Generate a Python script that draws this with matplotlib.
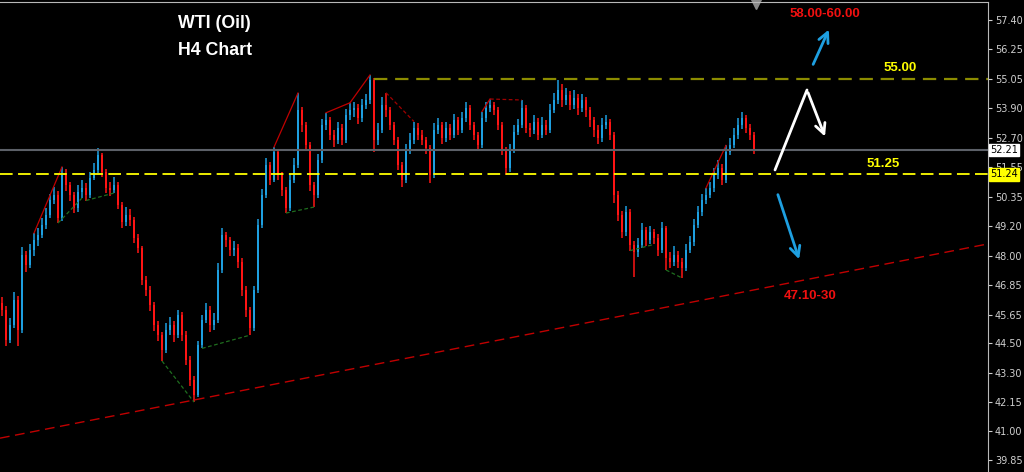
import matplotlib
matplotlib.use("Agg")
import matplotlib.pyplot as plt
import matplotlib.transforms as mtransforms

# H4 candles (prices)
closes = [45.83, 44.63, 45.23, 46.23, 45.03, 48.03, 47.63, 48.22, 48.62, 48.82,
          49.22, 49.62, 50.22, 50.42, 49.50, 51.22, 50.82, 50.42, 49.90, 50.54,
          50.70, 50.42, 51.10, 51.42, 52.02, 51.34, 50.70, 50.62, 50.82, 50.02,
          49.34, 49.62, 49.42, 48.70, 48.30, 47.03, 46.63, 46.03, 45.23, 44.83,
          44.24, 45.03, 45.23, 44.83, 45.63, 44.83, 43.84, 43.04, 42.44, 44.43,
          45.43, 45.83, 45.23, 45.43, 47.43, 48.82, 48.62, 48.22, 48.30, 47.75,
          46.63, 45.83, 45.11, 46.63, 49.22, 50.42, 51.62, 51.02, 52.14, 51.22,
          50.62, 49.90, 51.02, 51.62, 53.81, 53.21, 52.41, 50.82, 50.42, 51.82,
          53.21, 53.41, 52.81, 52.61, 53.09, 52.61, 53.61, 53.81, 53.89, 53.49,
          54.01, 54.21, 55.01, 52.61, 53.01, 54.01, 53.81, 53.21, 52.61, 51.62,
          51.02, 52.22, 52.61, 53.09, 52.81, 52.61, 52.29, 51.22, 53.01, 53.21,
          52.69, 53.09, 52.81, 53.41, 53.01, 53.49, 53.89, 53.21, 52.81, 52.41,
          53.49, 53.89, 54.01, 53.81, 53.21, 52.22, 51.50, 52.22, 52.93, 53.21,
          53.89, 53.09, 53.01, 53.33, 52.81, 53.21, 53.01, 53.81, 54.21, 54.61,
          54.21, 54.41, 54.01, 54.29, 53.89, 54.21, 53.81, 53.41, 53.01, 52.69,
          53.21, 53.33, 52.81, 50.42, 49.62, 48.94, 49.74, 48.42, 48.14, 48.42,
          49.02, 48.62, 48.94, 48.70, 48.22, 49.10, 47.91, 47.75, 48.03, 47.75,
          47.51, 48.22, 48.54, 49.22, 49.74, 50.22, 50.42, 50.70, 51.22, 51.50,
          51.02, 52.14, 52.41, 52.81, 53.21, 53.49, 53.09, 52.81, 52.21]
highs = [46.35, 46.00, 45.50, 46.55, 46.40, 48.34, 48.20, 48.45, 48.90, 49.10,
         49.50, 49.90, 50.45, 50.75, 50.60, 51.54, 51.45, 50.95, 50.55, 50.80,
         51.00, 50.90, 51.35, 51.70, 52.30, 52.10, 51.45, 50.95, 51.15, 50.95,
         50.15, 49.95, 49.85, 49.55, 48.85, 48.40, 47.20, 46.80, 46.15, 45.40,
         44.95, 45.30, 45.55, 45.40, 45.85, 45.75, 45.00, 44.00, 43.20, 44.60,
         45.65, 46.10, 46.00, 45.70, 47.70, 49.10, 48.95, 48.75, 48.60, 48.45,
         47.90, 46.80, 45.95, 46.80, 49.45, 50.65, 51.90, 51.75, 52.33, 52.25,
         51.35, 50.75, 51.25, 51.90, 54.49, 53.95, 53.35, 52.55, 50.95, 52.05,
         53.45, 53.70, 53.55, 53.00, 53.35, 53.25, 53.85, 54.10, 54.15, 54.05,
         54.25, 54.45, 55.21, 55.10, 53.30, 54.35, 54.50, 53.95, 53.35, 52.75,
         51.75, 52.45, 52.90, 53.35, 53.30, 53.00, 52.75, 52.40, 53.30, 53.50,
         53.35, 53.35, 53.25, 53.65, 53.55, 53.75, 54.15, 54.00, 53.35, 52.95,
         53.75, 54.15, 54.25, 54.15, 53.95, 53.35, 52.35, 52.45, 53.20, 53.45,
         54.21, 54.00, 53.30, 53.60, 53.50, 53.55, 53.40, 54.05, 54.50, 55.01,
         54.85, 54.70, 54.55, 54.60, 54.45, 54.45, 54.35, 53.95, 53.55, 53.20,
         53.50, 53.60, 53.45, 52.95, 50.60, 49.80, 50.00, 49.85, 48.60, 48.70,
         49.30, 49.15, 49.20, 49.05, 48.85, 49.35, 49.20, 48.15, 48.40, 48.20,
         47.90, 48.45, 48.80, 49.45, 50.00, 50.45, 50.70, 50.95, 51.50, 51.80,
         51.65, 52.40, 52.70, 53.10, 53.50, 53.73, 53.60, 53.25, 52.95]
lows = [45.60, 44.40, 44.50, 45.10, 44.40, 44.90, 47.35, 47.50, 48.00, 48.40,
        48.70, 49.05, 49.50, 50.05, 49.30, 49.40, 50.60, 50.20, 49.70, 49.75,
        50.30, 50.20, 50.30, 51.00, 51.30, 51.15, 50.50, 50.40, 50.50, 49.85,
        49.10, 49.20, 49.20, 48.50, 48.10, 46.85, 46.40, 45.80, 45.00, 44.60,
        43.80, 44.10, 44.85, 44.55, 44.70, 44.60, 43.64, 42.80, 42.16, 42.35,
        44.30, 45.30, 44.95, 45.05, 45.30, 47.30, 48.35, 48.00, 48.00, 47.50,
        46.40, 45.55, 44.83, 45.00, 46.50, 49.10, 50.30, 50.80, 50.95, 51.00,
        50.40, 49.70, 49.80, 50.90, 51.50, 52.95, 52.20, 50.60, 49.94, 50.30,
        51.70, 53.00, 52.60, 52.35, 52.45, 52.40, 52.50, 53.40, 53.55, 53.25,
        53.35, 53.85, 54.05, 52.14, 52.40, 52.90, 53.55, 53.00, 52.40, 51.40,
        50.74, 50.90, 52.05, 52.45, 52.60, 52.40, 52.05, 50.90, 51.10, 52.85,
        52.45, 52.55, 52.60, 52.70, 52.80, 52.90, 53.35, 53.00, 52.60, 52.22,
        52.30, 53.35, 53.75, 53.60, 53.00, 52.00, 51.22, 51.35, 52.10, 52.80,
        53.10, 52.90, 52.75, 52.85, 52.60, 52.70, 52.80, 52.90, 53.70, 54.05,
        53.95, 54.00, 53.80, 53.85, 53.60, 53.75, 53.55, 53.15, 52.75, 52.45,
        52.55, 53.05, 52.60, 50.10, 49.40, 48.70, 48.80, 48.20, 47.15, 47.95,
        48.30, 48.40, 48.45, 48.45, 48.00, 48.10, 47.43, 47.50, 47.60, 47.50,
        47.11, 47.40, 48.10, 48.40, 49.10, 49.60, 50.05, 50.30, 50.55, 51.05,
        50.80, 50.90, 52.00, 52.30, 52.65, 53.05, 52.90, 52.60, 52.05]
opens = [46.10] + closes[:-1]

# pivot lines drawn by the indicator (candle index pairs)
red_high_links = [(8, 15), (68, 74), (81, 87), (87, 92), (120, 122), (176, 181)]
red_dotted_links = [(122, 130), (96, 103)]
green_low_links = [(14, 20), (21, 28), (40, 48), (50, 62), (71, 78), (157, 163), (166, 170)]

# levels
last_price = 52.21
support_label = 51.24
resistance = 55.05
trend_start = (-0.5, 40.72)
trend_end = (246.5, 48.47)
yticks = [57.40, 56.25, 55.05, 53.90, 52.70, 51.55, 50.35, 49.20, 48.00,
          46.85, 45.65, 44.50, 43.30, 42.15, 41.00, 39.85]

up_col = "#1E9FE0"
down_col = "#FF1414"

fig = plt.figure(figsize=(10.24, 4.72), dpi=100, facecolor="black")
ax = fig.add_axes([0, 0, 988 / 1024, 470 / 472], facecolor="black")
ax.set_xlim(-0.5, 246.5)
ax.set_ylim(39.37, 58.12)

# candles
for i in range(len(closes)):
    col = up_col if closes[i] >= opens[i] else down_col
    ax.vlines(i, lows[i], highs[i], color=col, linewidth=1.1)
    lo = min(opens[i], closes[i])
    h = max(abs(closes[i] - opens[i]), 0.03)
    ax.bar(i, h, bottom=lo, width=0.7, color=col, linewidth=0)

for a, b in red_high_links:
    ax.plot([a, b], [highs[a], highs[b]], color="#C00000", linewidth=0.9)
for a, b in red_dotted_links:
    ax.plot([a, b], [highs[a], highs[b]], color="#A00000", linewidth=0.9,
            dashes=(3, 2))
for a, b in green_low_links:
    ax.plot([a, b], [lows[a], lows[b]], color="#1F6E1F", linewidth=0.9,
            dashes=(3, 2))

# level lines
ax.axhline(last_price, color="#5C6068", linewidth=1.5)
ax.axhline(support_label, color="#FFFF00", linewidth=1.3, dashes=(7, 3))
ax.plot([93, 246.5], [resistance, resistance], color="#8C8C00", linewidth=1.6,
        dashes=(6, 3.5))
ax.plot([trend_start[0], trend_end[0]], [trend_start[1], trend_end[1]],
        color="#C00000", linewidth=1.0, dashes=(7, 4))

# scenario arrows
blue_up = [(202.5, 55.53), (207.0, 57.12)]
white_path = [(193.25, 51.42), (201.25, 54.61), (206.0, 52.65)]
blue_down = [(193.75, 50.54), (199.5, 47.75)]
arrow_kw = dict(arrowstyle="->", lw=2.0, mutation_scale=18)
ax.annotate("", xy=blue_up[1], xytext=blue_up[0],
            arrowprops=dict(color=up_col, **arrow_kw))
ax.plot([white_path[0][0], white_path[1][0]], [white_path[0][1], white_path[1][1]],
        color="white", linewidth=2.0, solid_capstyle="round")
ax.annotate("", xy=white_path[2], xytext=white_path[1],
            arrowprops=dict(color="white", **arrow_kw))
ax.annotate("", xy=blue_down[1], xytext=blue_down[0],
            arrowprops=dict(color=up_col, **arrow_kw))

font = ["Liberation Sans", "DejaVu Sans"]
ax.text(44, 57.26, "WTI (Oil)", color="white", fontsize=12.8, fontweight="bold",
        family=font, va="center", ha="left")
ax.text(44, 56.20, "H4 Chart", color="white", fontsize=12.8, fontweight="bold",
        family=font, va="center", ha="left")
ax.text(205.75, 57.64, "58.00-60.00", color="#F01010", fontsize=9.5,
        fontweight="bold", family=font, ha="center", va="center")
ax.text(224.5, 55.49, "55.00", color="#FFFF00", fontsize=9.5,
        fontweight="bold", family=font, ha="center", va="center")
ax.text(220.25, 51.66, "51.25", color="#FFFF00", fontsize=9.5,
        fontweight="bold", family=font, ha="center", va="center")
ax.text(202, 46.39, "47.10-30", color="#F01010", fontsize=9.5,
        fontweight="bold", family=font, ha="center", va="center")

# shift marker at the top
ax.plot(len(closes) - 0.5, 58.05, marker="v", color="#8A8A8A", markersize=7,
        clip_on=False)

# axes styling
for s in ["left", "bottom"]:
    ax.spines[s].set_visible(False)
ax.spines["right"].set_color("#B8B8B8")
ax.spines["top"].set_color("#B8B8B8")
ax.set_xticks([])
ax.yaxis.tick_right()
ax.set_yticks(yticks)
ax.set_yticklabels(["%.2f" % v for v in yticks])
ax.tick_params(axis="y", colors="#D0D0D0", labelsize=7, length=3, width=0.8,
               pad=2)

trans = mtransforms.blended_transform_factory(ax.transAxes, ax.transData)
ax.text(1.002, last_price, "52.21", transform=trans, fontsize=7, color="black",
        va="center", ha="left", clip_on=False, zorder=10,
        bbox=dict(boxstyle="square,pad=0.12", fc="white", ec="white"))
ax.text(1.002, support_label, "51.24", transform=trans, fontsize=7, color="black",
        va="center", ha="left", clip_on=False, zorder=10,
        bbox=dict(boxstyle="square,pad=0.12", fc="#FFFF00", ec="#FFFF00"))

fig.savefig("out.png", dpi=100, facecolor="black")
plt.close(fig)
